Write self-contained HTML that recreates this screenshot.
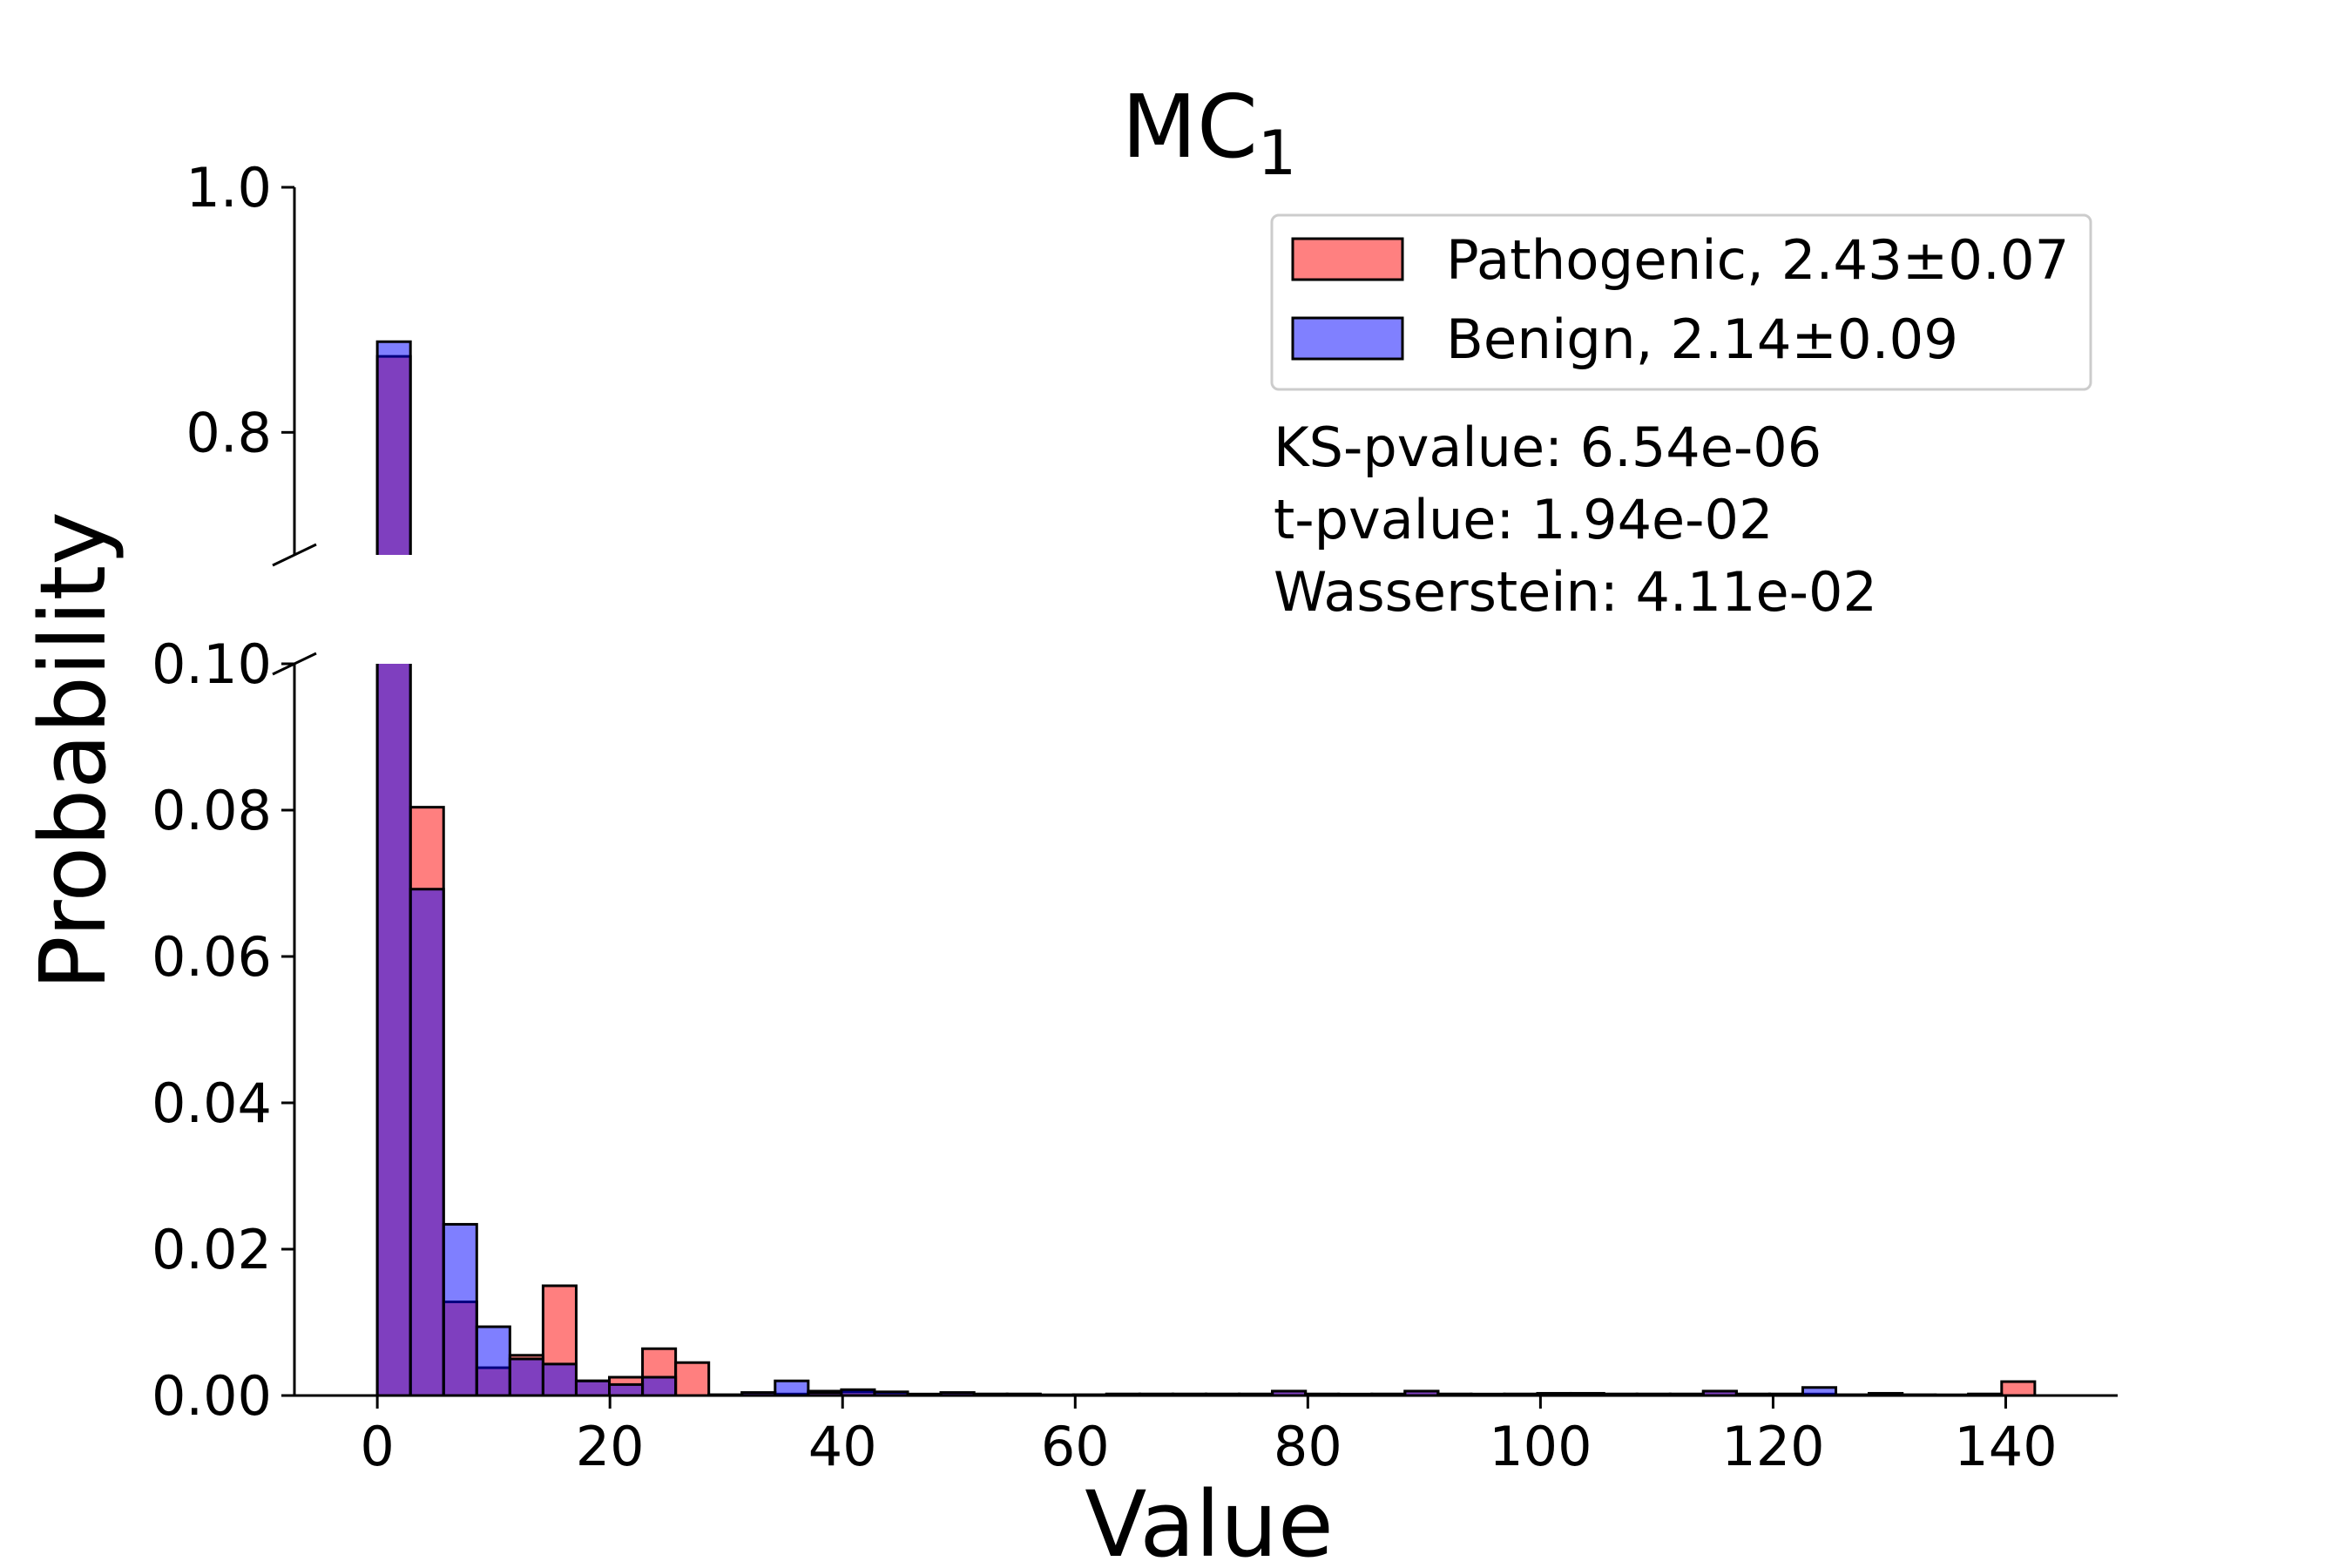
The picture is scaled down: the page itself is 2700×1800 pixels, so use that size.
<!DOCTYPE html>
<html><head><meta charset="utf-8"><style>
html,body{margin:0;padding:0;background:#fff;}
svg{display:block;font-family:"DejaVu Sans","Liberation Sans",sans-serif;}
</style></head><body>
<svg id="chart" width="2700" height="1800" viewBox="0 0 2700 1800" xmlns="http://www.w3.org/2000/svg"></svg>
<script>
const binWidth = 2.85;
const pathogenic = [0.862,0.0804,0.0128,0.0038,0.0055,0.0150,0.0020,0.0025,0.0064,0.0045,
  0.0001,0.0004,0.0002,0.0006,0.0005,0.0004,0.0002,0.0004,0.0002,0.0002,
  0.0001,0.0001,0.0002,0.0002,0.0002,0.0002,0.0002,0.0006,0.0002,0.0002,
  0.0002,0.0006,0.0002,0.0001,0.0002,0.0003,0.0003,0.0002,0.0002,0.0002,
  0.0006,0.0002,0.0002,0.0002,0.0001,0.0003,0.0001,0.0001,0.0002,0.0019];
const benign = [0.874,0.0692,0.0234,0.0094,0.0050,0.0043,0.0020,0.0015,0.0025,0.0000,
  0.0001,0.0004,0.0020,0.0004,0.0008,0.0005,0.0001,0.0004,0.0002,0.0002,
  0.0000,0.0001,0.0002,0.0002,0.0002,0.0002,0.0002,0.0006,0.0002,0.0001,
  0.0002,0.0006,0.0002,0.0002,0.0002,0.0003,0.0003,0.0002,0.0002,0.0002,
  0.0006,0.0002,0.0002,0.0011,0.0001,0.0003,0.0001,0.0000,0.0002,0.0000];
const xTicks = [0,20,40,60,80,100,120,140];
const yTicksLow = [0,0.02,0.04,0.06,0.08,0.10];
const yTickLabelsLow = ["0.00","0.02","0.04","0.06","0.08","0.10"];
const yTicksUp = [0.8,1.0];
const yTickLabelsUp = ["0.8","1.0"];

const NS="http://www.w3.org/2000/svg";
const svg=document.getElementById('chart');
function mk(tag,attrs,parent){const e=document.createElementNS(NS,tag);for(const k in attrs)e.setAttribute(k,attrs[k]);(parent||svg).appendChild(e);return e;}
const L=338,R=2431;
const xmin=-7.125,xmax=149.625;
function X(v){return L+(v-xmin)*(R-L)/(xmax-xmin);}
const lowTop=762,lowBot=1602;
function YL(v){return lowBot-(v/0.10)*(lowBot-lowTop);}
const upTop=215,upBot=637;
function YU(v){return upBot-((v-0.7)/0.3)*(upBot-upTop);}

const defs=mk('defs',{});
const c1=mk('clipPath',{id:'clipLow'},defs);mk('rect',{x:L,y:lowTop,width:R-L,height:lowBot-lowTop},c1);
const c2=mk('clipPath',{id:'clipUp'},defs);mk('rect',{x:L,y:upTop,width:R-L,height:upBot-upTop},c2);

function drawBars(g,Y,ybase,series,fill,name){
  series.forEach((v,i)=>{
    const x0=X(i*binWidth),x1=X((i+1)*binWidth);
    const yt=Y(v);
    const r=mk('rect',{x:x0,y:Math.min(yt,ybase),width:x1-x0,height:Math.max(0,ybase-yt),fill:fill,stroke:'#000','stroke-width':3},g);
    
    
  });
}
const gLow=mk('g',{'clip-path':'url(#clipLow)'});


drawBars(gLow,YL,lowBot,pathogenic,'rgba(255,0,0,0.5)','pathogenic');
drawBars(gLow,YL,lowBot,benign,'rgba(0,0,255,0.5)','benign');
const gUp=mk('g',{'clip-path':'url(#clipUp)'});


drawBars(gUp,YU,upBot+20,pathogenic,'rgba(255,0,0,0.5)','pathogenic-upper');
drawBars(gUp,YU,upBot+20,benign,'rgba(0,0,255,0.5)','benign-upper');

const ax=mk('g',{stroke:'#000','stroke-width':3,fill:'none'});


mk('line',{x1:L,y1:upTop,x2:L,y2:upBot},ax);
mk('line',{x1:L,y1:lowTop,x2:L,y2:lowBot},ax);
mk('line',{x1:L,y1:lowBot,x2:R,y2:lowBot},ax);
mk('line',{x1:L-25,y1:upBot+12,x2:L+25,y2:upBot-12},ax);
mk('line',{x1:L-25,y1:lowTop+12,x2:L+25,y2:lowTop-12},ax);

const tf={'font-size':62,fill:'#000'};
xTicks.forEach(t=>{
  mk('line',{x1:X(t),y1:lowBot,x2:X(t),y2:lowBot+15,stroke:'#000','stroke-width':3});
  const e=mk('text',Object.assign({x:X(t),y:lowBot+80,'text-anchor':'middle'},tf));e.textContent=t;
  
  
});
yTicksLow.forEach((t,i)=>{
  mk('line',{x1:L-15,y1:YL(t),x2:L,y2:YL(t),stroke:'#000','stroke-width':3});
  const e=mk('text',Object.assign({x:L-26,y:YL(t)+22,'text-anchor':'end'},tf));e.textContent=yTickLabelsLow[i];
  
  
});
yTicksUp.forEach((t,i)=>{
  mk('line',{x1:L-15,y1:YU(t),x2:L,y2:YU(t),stroke:'#000','stroke-width':3});
  const e=mk('text',Object.assign({x:L-26,y:YU(t)+22,'text-anchor':'end'},tf));e.textContent=yTickLabelsUp[i];
  
  
});
</script>
<svg style="position:absolute;left:0;top:0" width="2700" height="1800" font-family="DejaVu Sans, Liberation Sans, sans-serif">
  <text x="1388" y="180" font-size="100" text-anchor="middle">MC<tspan font-size="70" dy="20">1</tspan></text>
  <text x="1388" y="1786" font-size="104" text-anchor="middle">Value</text>
  <text x="0" y="0" font-size="104" text-anchor="middle" transform="translate(120,862) rotate(-90)">Probability</text>
  <g>
    <rect x="1460" y="247" width="940" height="200" rx="8" fill="#fff" stroke="#ccc" stroke-width="3"/>
    <rect x="1484" y="274" width="126" height="47" fill="#ff8080" stroke="#000" stroke-width="3"/>
    <text x="1660" y="320" font-size="62.5">Pathogenic, 2.43±0.07</text>
    <rect x="1484" y="365" width="126" height="47" fill="#8080ff" stroke="#000" stroke-width="3"/>
    <text x="1660" y="411" font-size="62.5">Benign, 2.14±0.09</text>
  </g>
  <text x="1462" y="535" font-size="62">KS-pvalue: 6.54e-06</text>
  <text x="1462" y="618" font-size="62">t-pvalue: 1.94e-02</text>
  <text x="1462" y="701" font-size="62">Wasserstein: 4.11e-02</text>
</svg>
</body></html>
